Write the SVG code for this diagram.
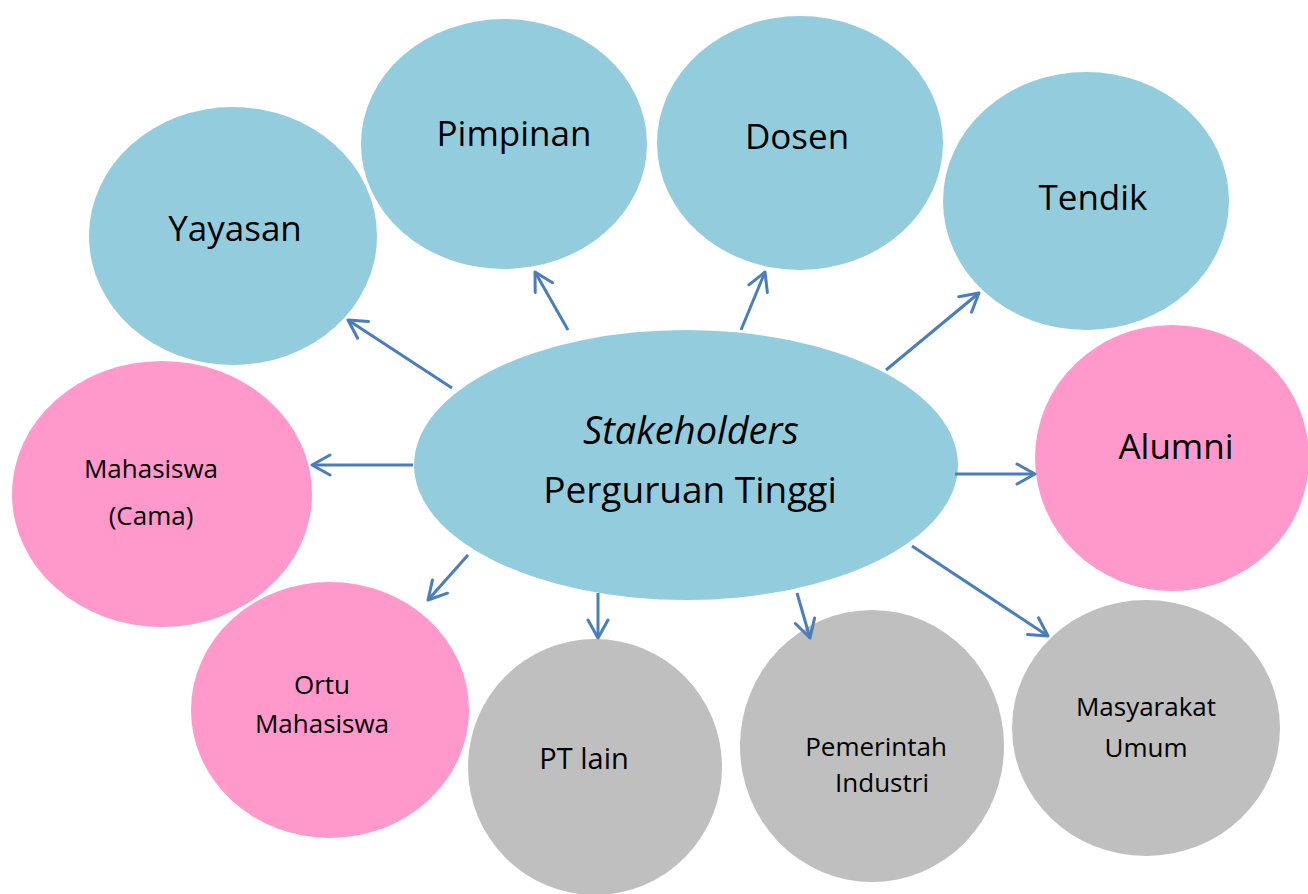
<svg xmlns="http://www.w3.org/2000/svg" width="1308" height="894" viewBox="0 0 1308 894">
<style>
.blue{fill:#93cddd}
.pink{fill:#ff99cc}
.gray{fill:#bfbfbf}
text{font-family:"Open Sans","Noto Sans","Liberation Sans",sans-serif;fill:#000;text-anchor:middle;font-weight:500}
.big{font-size:35px}
.mid{font-size:26px}
.sm{font-size:26px}
.conn line{stroke:#4a7ebb;stroke-width:3;marker-end:url(#ah)}
</style>
<defs>
<marker id="ah" markerUnits="userSpaceOnUse" viewBox="-22 -12 26 24" refX="0" refY="0" markerWidth="26" markerHeight="24" orient="auto">
<path d="M-18,-10 L0,0 L-18,10" fill="none" stroke="#4a7ebb" stroke-width="3" stroke-linecap="round" stroke-linejoin="round"/>
</marker>
</defs>
<rect width="1308" height="894" fill="#fff"/>
<g id="yayasan"><ellipse class="blue" cx="233" cy="236" rx="144" ry="129"/><text class="big" x="235" y="241">Yayasan</text></g>
<g id="pimpinan"><ellipse class="blue" cx="504" cy="144" rx="143" ry="125"/><text class="big" x="514" y="146">Pimpinan</text></g>
<g id="dosen"><ellipse class="blue" cx="800" cy="143" rx="143" ry="127"/><text class="big" x="797" y="149">Dosen</text></g>
<g id="tendik"><ellipse class="blue" cx="1086" cy="201" rx="143" ry="129"/><text class="big" x="1093" y="210">Tendik</text></g>
<g id="alumni"><ellipse class="pink" cx="1172" cy="458" rx="137" ry="133"/><text class="big" x="1176" y="459">Alumni</text></g>
<g id="mahasiswa"><ellipse class="pink" cx="162" cy="494" rx="150" ry="133"/><text class="mid" x="151" y="478">Mahasiswa</text><text class="mid" x="151" y="525">(Cama)</text></g>
<g id="ortu"><ellipse class="pink" cx="330" cy="710" rx="139" ry="128"/><text class="mid" x="322" y="694">Ortu</text><text class="mid" x="322" y="733">Mahasiswa</text></g>
<g id="ptlain"><ellipse class="gray" cx="595" cy="767" rx="127" ry="128"/><text class="sm" x="584" y="769" style="font-size:29px">PT lain</text></g>
<g id="pemerintah"><ellipse class="gray" cx="872" cy="746" rx="132" ry="136"/><text class="sm" x="876" y="756">Pemerintah</text><text class="sm" x="882" y="792">Industri</text></g>
<g id="masyarakat"><ellipse class="gray" cx="1146" cy="728" rx="134" ry="128"/><text class="sm" x="1146" y="716">Masyarakat</text><text class="sm" x="1146" y="757">Umum</text></g>
<g id="center"><ellipse class="blue" cx="686" cy="465" rx="272" ry="135"/><text x="691" y="444" style="font-size:38px;font-style:italic">Stakeholders</text><text x="690" y="503" style="font-size:37px">Perguruan Tinggi</text></g>
<g class="conn" id="connectors">
<line x1="452" y1="388" x2="348" y2="320"/>
<line x1="568" y1="330" x2="535" y2="272"/>
<line x1="741" y1="330" x2="765" y2="272"/>
<line x1="886" y1="370" x2="979" y2="293"/>
<line x1="413" y1="465" x2="312" y2="465"/>
<line x1="955" y1="474" x2="1035" y2="474"/>
<line x1="468" y1="555" x2="428" y2="600"/>
<line x1="598" y1="593" x2="598" y2="638"/>
<line x1="797" y1="593" x2="810" y2="638"/>
<line x1="912" y1="546" x2="1048" y2="636"/>
</g>
</svg>
